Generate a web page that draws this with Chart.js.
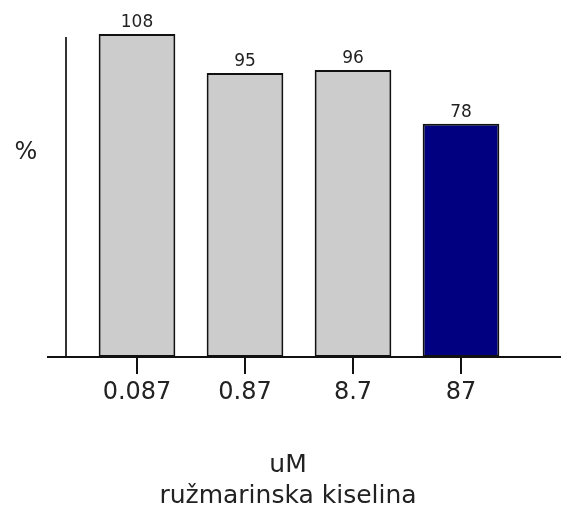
<!DOCTYPE html>
<html>
<head>
<meta charset="utf-8">
<script src="https://cdn.jsdelivr.net/npm/chart.js@4.4.1/dist/chart.umd.min.js"></script>
<style>
html,body{margin:0;padding:0;background:#fff;}
#wrap{width:561px;height:505px;}
</style>
</head>
<body>
<div id="wrap"><canvas id="c" width="561" height="505"></canvas></div>
<script>
const categories = ['0.087', '0.87', '8.7', '87'];
const values = [108, 95, 96, 78];
const barColors = ['#cccccc', '#cccccc', '#cccccc', '#000080'];
const yLabel = '%';
const xTitle = ['uM', 'ružmarinska kiselina'];

const FONT = '"DejaVu Sans", Verdana, sans-serif';

const decor = {
  id: 'decor',
  beforeDatasetsDraw(chart) {
    const ctx = chart.ctx, a = chart.chartArea;
    ctx.save();
    ctx.strokeStyle = '#333';
    ctx.lineWidth = 2;
    ctx.beginPath();
    ctx.moveTo(a.left - 17, a.top);
    ctx.lineTo(a.left - 17, a.bottom);
    ctx.stroke();
    ctx.restore();
  },
  afterDatasetsDraw(chart) {
    const ctx = chart.ctx, a = chart.chartArea;
    ctx.save();
    ctx.strokeStyle = '#111';
    ctx.lineWidth = 2;
    ctx.beginPath();
    ctx.moveTo(a.left - 36, a.bottom);
    ctx.lineTo(chart.width, a.bottom);
    ctx.stroke();
    const meta = chart.getDatasetMeta(0);
    ctx.fillStyle = '#222';
    ctx.font = '17px ' + FONT;
    ctx.textAlign = 'center';
    ctx.textBaseline = 'bottom';
    meta.data.forEach((bar, i) => {
      ctx.fillText(String(values[i]), bar.x, bar.y - 3);
    });
    ctx.font = '24px ' + FONT;
    ctx.textBaseline = 'middle';
    ctx.fillText(yLabel, 26, 153);
    // x axis title
    const cx = (a.left + a.right) / 2 + 0;
    ctx.font = '25px ' + FONT;
    ctx.textBaseline = 'alphabetic';
    ctx.fillText(xTitle[0], 288, 472);
    ctx.fillText(xTitle[1], 288, 503);
    ctx.restore();
  }
};

new Chart(document.getElementById('c'), {
  type: 'bar',
  data: {
    labels: categories,
    datasets: [{
      data: values,
      backgroundColor: barColors,
      borderColor: '#111',
      borderWidth: 2,
      borderSkipped: false,
      categoryPercentage: 0.71,
      barPercentage: 1,
      clip: false
    }]
  },
  options: {
    responsive: false,
    animation: false,
    devicePixelRatio: 1,
    layout: { padding: { left: 83, right: 46, top: 37, bottom: 0 } },
    plugins: { legend: { display: false }, tooltip: { enabled: false } },
    scales: {
      y: { display: false, min: 0, max: 107 },
      x: {
        afterFit(s) { s.height = 148; },
        border: { display: false },
        grid: { drawOnChartArea: false, drawTicks: true, tickLength: 17, offset: false, color: '#111', lineWidth: 2 },
        ticks: { color: '#222', font: { family: FONT, size: 24 }, padding: 4, maxRotation: 0 },
        title: { display: false }
      }
    }
  },
  plugins: [decor]
});
</script>
</body>
</html>
